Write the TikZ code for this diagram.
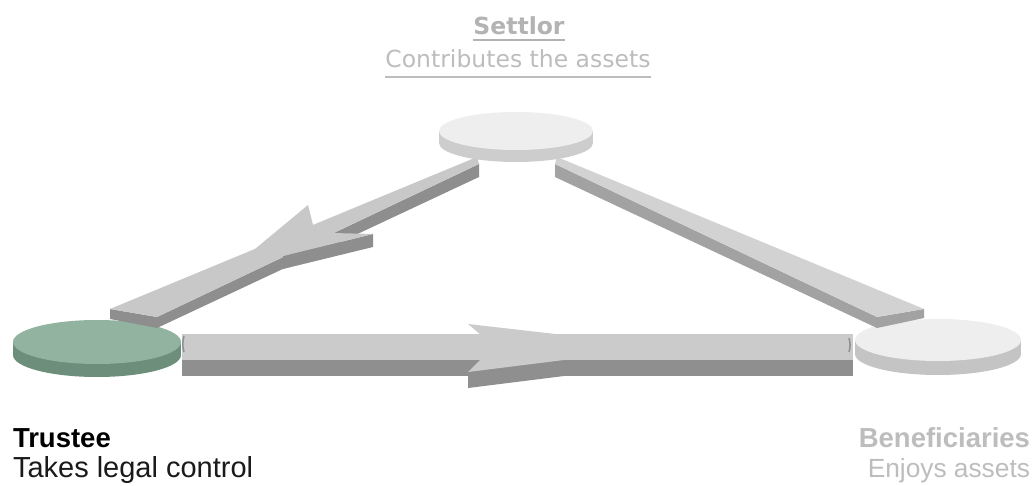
\documentclass[tikz,border=0pt]{standalone}
\usepackage{fontspec}
\setmainfont{DejaVu Sans}
\newfontfamily\arialf{Liberation Sans}
\usetikzlibrary{calc}
\definecolor{trusteetop}{HTML}{91B39F}
\definecolor{trusteeside}{HTML}{6C8E7A}
\definecolor{settlortop}{HTML}{EEEEEE}
\definecolor{settlorside}{HTML}{CDCDCD}
\definecolor{benetop}{HTML}{EEEEEE}
\definecolor{beneside}{HTML}{C4C4C4}
\definecolor{lbartop}{HTML}{C8C8C8}
\definecolor{lbarside}{HTML}{8E8E8E}
\definecolor{rbartop}{HTML}{D2D2D2}
\definecolor{rbarside}{HTML}{A2A2A2}
\definecolor{bbartop}{HTML}{CBCBCB}
\definecolor{bbarside}{HTML}{8F8F8F}
\definecolor{graytxt}{HTML}{B3B3B3}
\definecolor{lgraytxt}{HTML}{BDBDBD}
\definecolor{darktxt}{HTML}{1A1A1A}
\newcommand\mydisk[6]{%
  \coordinate (#1) at #2;
  \fill[#6side] ($(#1)+(-#3,0)$) rectangle ($(#1)+(#3,#5)$);
  \fill[#6side] ($(#1)+(0,#5)$) ellipse [x radius=#3, y radius=#4];
  \fill[#6top] (#1) ellipse [x radius=#3, y radius=#4];
}
\begin{document}
\begin{tikzpicture}[x=1pt,y=-1pt,
  txt/.style={inner sep=0pt, outer sep=0pt},
  topbold/.style={txt, font=\fontsize{23.5}{28}\selectfont\bfseries},
  topsub/.style={txt, font=\fontsize{23.5}{28}\selectfont},
  lowbold/.style={txt, font=\arialf\fontsize{27.5}{32}\selectfont\bfseries},
  lowsub/.style={txt, font=\arialf\fontsize{27}{32}\selectfont},
]
\fill[white] (0,0) rectangle (1034,486);
\useasboundingbox (0,0) rectangle (1034,486);

% lower disks
\mydisk{trustee}{(97,342)}{84}{22}{13}{trustee}
\mydisk{bene}{(938,340)}{83}{21}{14}{bene}

% ---- left bar (Settlor -> Trustee)
\coordinate (lu1) at (110,309);
\coordinate (lu2) at (477,157);
\coordinate (ll2) at (479,164);
\coordinate (ll1) at (157,317);
\fill[lbarside] (lu1) -- (ll1) -- ($(ll1)+(0,11)$) -- ($(lu1)+(0,10)$) -- cycle;
\fill[lbarside] (ll1) -- (ll2) -- ($(ll2)+(0,13)$) -- ($(ll1)+(0,11)$) -- cycle;
\fill[lbartop] (lu1) -- (lu2) -- (ll2) -- (ll1) -- cycle;
% head
\coordinate (lh1) at (255,249);
\coordinate (lh2) at (308,205);
\coordinate (lh3) at (313,225);
\coordinate (lh4) at (332,233);
\coordinate (lh5) at (373,234);
\coordinate (lh6) at (283,256);
\fill[lbarside] (lh6) -- (lh5) -- ($(lh5)+(0,13)$) -- ($(lh6)+(0,13)$) -- cycle;
\fill[lbartop] (lh1) -- (lh2) -- (lh3) -- (lh4) -- (lh5) -- (lh6) -- cycle;

% ---- right bar (Settlor - Beneficiaries)
\coordinate (ru1) at (924,309);
\coordinate (ru2) at (557,157);
\coordinate (rl2) at (555,164);
\coordinate (rl1) at (877,317);
\fill[rbarside] (ru1) -- (rl1) -- ($(rl1)+(0,11)$) -- ($(ru1)+(0,9)$) -- cycle;
\fill[rbarside] (rl1) -- (rl2) -- ($(rl2)+(0,13)$) -- ($(rl1)+(0,11)$) -- cycle;
\fill[rbartop] (ru1) -- (ru2) -- (rl2) -- (rl1) -- cycle;

% ---- bottom bar (Trustee -> Beneficiaries)
\coordinate (b1) at (182,334);
\coordinate (b2) at (853,334);
\coordinate (b3) at (853,360);
\coordinate (b4) at (182,360);
\fill[bbarside] (b4) -- (b3) -- ($(b3)+(0,16)$) -- ($(b4)+(0,16)$) -- cycle;
\fill[bbartop] (b1) -- (b2) -- (b3) -- (b4) -- cycle;
\coordinate (bh1) at (468,324);
\coordinate (bh2) at (564,335);
\coordinate (bh3) at (564,360);
\coordinate (bh4) at (468,372);
\coordinate (bh5) at (480,360);
\coordinate (bh6) at (481,335);
\fill[bbarside] (bh4) -- (bh3) -- ($(bh3)+(0,16)$) -- ($(bh4)+(0,16)$) -- cycle;
\fill[bbartop] (bh1) -- (bh2) -- (bh3) -- (bh4) -- (bh5) -- (bh6) -- cycle;
\draw[black!60, line width=1.5pt, opacity=0.6] (184,336) to[bend right=15] (184,352);
\draw[black!60, line width=1.5pt, opacity=0.6] (849,338) to[bend left=15] (849,352);

% upper disk
\mydisk{settlor}{(516,131)}{77}{19}{12}{settlor}

% ---- texts
\node[topbold, text=graytxt, anchor=base] (settlorT) at (519,35) {Settlor};
\draw[graytxt, line width=2pt] ($(settlorT.base west)+(0,5)$) -- ($(settlorT.base east)+(0,5)$);
\node[topsub, text=lgraytxt, anchor=base] (settlorS) at (518,68) {Contributes the assets};
\draw[lgraytxt, line width=1.8pt] ($(settlorS.base west)+(0,9)$) -- ($(settlorS.base east)+(0,9)$);

\node[lowbold, text=black, anchor=base west] (trusteeT) at (13,447) {Trustee};
\node[lowsub, text=darktxt, anchor=base west, font=\arialf\fontsize{29}{34}\selectfont] (trusteeS) at (13,477) {Takes legal control};

\node[lowbold, text=lgraytxt, anchor=base east] (beneT) at (1030,447) {Beneficiaries};
\node[lowsub, text=lgraytxt, anchor=base east, font=\arialf\fontsize{26.3}{31}\selectfont] (beneS) at (1030,477) {Enjoys assets};
\end{tikzpicture}
\end{document}
